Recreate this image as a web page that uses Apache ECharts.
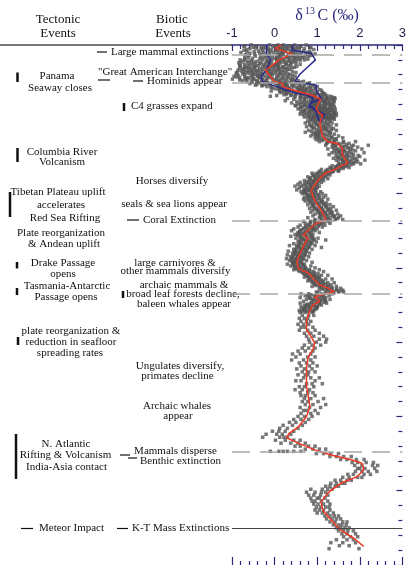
<!DOCTYPE html>
<html>
<head>
<meta charset="utf-8">
<script src="https://cdn.jsdelivr.net/npm/echarts@6/dist/echarts.min.js"></script>
<style>
  html, body { margin: 0; padding: 0; background: #fff; }
  #chart { width: 409px; height: 565px; }
</style>
</head>
<body>
<div id="chart"></div>
<script>
// Cenozoic benthic carbon isotope record: age (Ma) down the page, δ13C (‰) across.

// δ13C axis range and tick step
const isoMin = -1;
const isoMax = 3;
const isoStep = 1;
// age axis (Ma)
const ageMax = 70;
const ageStep = 10;

// ages (Ma) of dashed event lines and the K-T boundary
const eventAges = [1.35, 5.05, 23.6, 33.5, 54.7];
const ktAge = 65.0;

// smoothed mean curve: [δ13C, age]
const meanCurve = [
  [0.15,0],[0.02,0.45],[0.42,1.2],[0.10,2.0],[-0.05,2.7],[-0.22,3.4],[-0.13,4.0],[-0.01,4.9],
  [0.20,5.2],[0.18,5.6],[0.45,6.1],[0.90,6.8],[1.08,7.3],[0.98,8.5],[1.02,9.0],[1.13,9.5],
  [1.06,10.5],[1.09,11.4],[1.13,12.3],[1.25,13.0],[1.48,13.3],[1.59,13.9],[1.59,14.8],[1.72,15.9],
  [1.55,16.3],[1.40,16.8],[1.17,17.3],[1.02,18.2],[0.86,19.5],[0.90,20.4],[0.98,21.3],[1.09,22.2],
  [1.17,23.1],[1.20,23.6],[0.98,24.0],[0.83,24.7],[0.67,25.6],[0.79,26.0],[0.71,26.7],[0.60,28.0],
  [0.52,29.2],[0.56,30.1],[0.79,30.7],[0.94,31.6],[1.06,32.3],[1.25,32.7],[1.40,33.2],[0.94,33.9],
  [1.06,34.5],[0.90,35.0],[0.83,35.7],[0.75,37.0],[0.75,38.4],[0.83,39.0],[0.94,40.1],[0.90,41.0],
  [0.79,42.0],[0.75,43.3],[0.75,46.0],[0.79,47.3],[0.83,48.7],[0.75,50.0],[0.56,51.4],[0.33,52.3],
  [0.29,52.9],[0.56,53.6],[0.94,54.5],[1.32,55.2],[1.78,55.8],[2.05,56.3],[2.09,57.2],[1.94,58.1],
  [1.55,59.0],[1.25,60.3],[1.09,61.5],[1.13,62.6],[1.32,63.9],[1.55,65.3],[1.86,66.4],[2.09,67.5]
];

// spread envelope for the last 10 Myr: [δ13C, age]
const envelopeLow = [
  [-0.17,0],[-0.2,1.1],[-0.09,2.0],[-0.2,3.4],[-0.32,4.3],[-0.28,4.9],[-0.05,5.4],[0.29,6.1],
  [0.52,6.5],[0.75,6.7],[0.9,7.2],[0.83,8.1],[0.9,8.5],[0.98,9.0],[1.02,9.9],[1.08,10.4]
];
const envelopeHigh = [
  [0.44,0],[0.41,0.7],[0.86,1.1],[0.96,2.0],[0.79,2.9],[0.6,3.9],[0.52,4.5],[0.48,4.9],
  [0.98,5.4],[0.98,6.2],[1.1,7.2],[0.86,7.8],[0.79,8.3],[0.98,8.7],[1.17,9.4],[1.12,10.0],[1.08,10.4]
];

// individual measurements, 0-10 Ma: [age, δ13C, δ13C, ...]
const isotopeRowsNeogeneLate = [
  [0.0,-0.55,-0.12,0.21,0.47,0.08,0.74],[0.1,-0.42,0.02,0.38,-0.7,0.62,0.15],
  [0.2,-0.31,0.35,-0.72,0.12,0.61,-0.04],[0.3,0.1,-0.25,0.55,-0.5,0.28,0.85],
  [0.4,0.28,-0.45,0.02,0.83,-0.21,0.52],[0.5,-0.15,0.45,-0.58,0.2,0.7,-0.32],
  [0.6,-0.66,0.15,0.44,-0.08,0.92,0.31],[0.7,0.38,-0.72,0.05,0.58,-0.28,0.15],
  [0.8,0.06,-0.38,0.68,0.23,-0.15,0.5],[0.9,-0.48,0.25,0.82,-0.1,0.42,-0.65],
  [1.0,-0.79,0.38,-0.02,0.77,0.18,-0.26],[1.1,0.15,0.62,-0.35,0.45,-0.58,0.85],
  [1.2,0.55,-0.47,0.09,0.32,0.95,-0.12],[1.3,-0.68,0.2,0.5,-0.3,0.72,0.05],
  [1.4,-0.2,0.62,0.15,-0.6,0.41,0.86],[1.5,0.35,-0.12,0.55,-0.45,0.8,0.1],
  [1.6,0.27,-0.33,0.71,-0.05,0.48,-0.7],[1.7,-0.25,0.45,0.05,-0.62,0.3,0.65],
  [1.8,-0.52,0.12,0.36,-0.18,0.58,0.01],[1.9,0.18,-0.7,0.52,-0.35,0.05,0.78],
  [2.0,0.22,-0.81,-0.28,0.44,-0.06,0.7],[2.1,-0.55,0.12,-0.15,0.35,-0.72,0.6],
  [2.2,-0.41,0.05,-0.63,0.3,-0.17,0.5],[2.3,-0.2,0.42,-0.48,0.1,-0.78,0.22],
  [2.4,0.14,-0.55,-0.08,-0.32,0.38,-0.84],[2.5,-0.62,0.05,-0.35,0.5,-0.12,0.28],
  [2.6,-0.25,0.26,-0.7,0.02,-0.45,0.6],[2.7,0.1,-0.52,-0.2,0.38,-0.82,0.0],
  [2.8,-0.6,-0.12,0.33,-0.38,0.08,-0.8],[2.9,-0.45,0.2,-0.7,-0.05,0.52,-0.28],
  [3.0,0.18,-0.48,-0.22,0.46,-0.66,0.0],[3.1,-0.15,-0.6,0.25,-0.82,0.08,0.4],
  [3.2,-0.35,-0.75,0.1,-0.12,0.3,-0.55],[3.3,-0.48,0.12,-0.28,-0.7,0.35,-0.05],
  [3.4,-0.62,-0.2,0.2,-0.42,-0.86,0.05],[3.5,0.0,-0.38,-0.78,0.28,-0.15,-0.55],
  [3.6,0.12,-0.52,-0.3,-0.08,0.42,-0.72],[3.7,-0.65,-0.2,0.18,-0.45,-0.88,0.5],
  [3.8,-0.9,-0.38,0.02,-0.6,0.25,-0.15],[3.9,-0.08,-0.52,0.32,-0.75,0.1,-0.3],
  [4.0,-0.28,0.15,-0.7,-0.45,0.36,-0.05],[4.1,-0.85,-0.12,0.22,-0.52,0.42,-0.35],
  [4.2,-0.55,-0.95,0.08,-0.22,-0.4,0.48],[4.3,0.05,-0.38,-0.7,0.3,-0.15,-0.9],
  [4.4,0.2,-0.62,-0.1,-0.82,0.3,-0.35],[4.5,-0.5,0.15,-0.28,-0.65,0.38,-0.05],
  [4.6,-0.18,-0.48,0.42,-0.99,0.05,-0.68],[4.7,-0.3,0.22,-0.82,0.0,-0.55,0.45],
  [4.8,-0.4,0.12,-0.75,0.55,-0.2,0.28],[4.9,0.1,-0.65,0.4,-0.22,0.68,-0.42],
  [5.0,0.35,-0.52,-0.05,0.62,-0.3,0.15],[5.1,-0.35,0.25,0.55,-0.15,0.05,0.82],
  [5.2,-0.12,0.48,0.2,-0.58,0.78,0.02],[5.3,0.42,-0.42,0.12,0.7,-0.22,0.28],
  [5.4,0.3,-0.28,0.58,0.08,0.92,-0.45],[5.5,-0.1,0.62,0.2,0.85,-0.3,0.4],
  [5.6,0.1,0.45,-0.18,0.7,0.25,1.0],[5.7,0.3,0.8,-0.08,0.52,0.15,0.95],
  [5.8,0.55,-0.05,0.32,0.85,0.18,0.65],[5.9,0.12,0.62,0.95,0.35,0.75,0.02],
  [6.0,0.4,0.72,0.1,1.05,0.28,0.58],[6.1,0.55,0.2,0.85,0.32,1.1,0.68],
  [6.2,0.62,0.22,0.9,0.45,-0.08,0.78],[6.3,0.25,0.72,0.45,1.0,0.58,0.12],
  [6.4,0.35,0.82,0.55,1.12,0.15,0.68],[6.5,0.5,0.95,0.7,0.28,1.15,0.62],
  [6.6,0.72,0.5,1.0,0.28,0.88,1.18],[6.7,0.85,0.4,1.08,0.65,0.95,0.22],
  [6.8,0.6,0.95,0.38,0.8,1.22,0.05],[6.9,0.72,1.15,0.48,1.3,0.9,-0.1],
  [7.0,0.88,1.1,0.62,1.35,0.75,0.48],[7.1,0.95,0.6,1.22,0.8,1.4,1.05],
  [7.2,1.02,0.7,1.25,0.92,0.3,1.42],[7.3,0.7,1.35,0.9,1.12,0.45,1.22],
  [7.4,0.85,1.18,1.0,0.6,1.3,0.98],[7.5,1.15,0.92,0.7,1.38,1.05,0.25],
  [7.6,1.08,0.78,1.4,0.95,0.52,1.2],[7.7,0.85,1.28,1.0,0.62,1.18,0.95],
  [7.8,0.92,1.15,0.68,1.28,1.02,0.4],[7.9,1.05,0.75,1.35,0.88,1.2,0.55],
  [8.0,0.82,1.05,0.6,1.22,0.95,1.38],[8.1,0.92,1.15,0.7,1.3,1.0,0.48],
  [8.2,1.1,0.72,0.9,1.3,0.5,1.0],[8.3,1.2,0.85,1.05,0.65,1.4,0.95],
  [8.4,0.95,1.18,0.78,1.05,1.35,0.62],[8.5,0.8,1.08,1.3,0.92,0.6,1.18],
  [8.6,1.12,0.85,1.25,0.98,0.55,1.42],[8.7,1.02,0.72,1.15,1.35,0.88,1.25],
  [8.8,0.9,1.05,1.2,0.7,1.32,1.0],[8.9,1.25,0.95,0.65,1.1,1.42,0.82],
  [9.0,1.15,0.8,1.02,1.38,0.62,1.1],[9.1,0.88,1.18,1.3,0.7,1.02,1.4],
  [9.2,0.95,1.25,1.08,0.75,1.45,1.15],[9.3,1.08,0.82,1.22,1.38,0.95,0.6],
  [9.4,1.2,0.88,1.32,1.05,0.68,1.12],[9.5,1.3,1.0,0.78,1.15,1.45,1.05],
  [9.6,1.0,1.22,0.82,1.4,1.1,0.92],[9.7,0.92,1.25,1.1,0.7,1.35,1.18],
  [9.8,1.15,0.78,1.28,1.05,1.35,0.9],[9.9,1.2,0.95,1.38,0.85,1.08,1.28]
];

// individual measurements, 10-36 Ma
const isotopeRowsMiddle = [
  [10.0,0.85,1.22,1.0,1.4],[10.125,1.05,0.9,1.3],[10.25,1.12,0.78,1.3,0.95],[10.375,1.0,1.21,0.83],
  [10.5,0.92,1.18,0.72,1.35],[10.625,1.1,0.96,1.27],[10.75,1.25,1.0,0.82,1.45],[10.875,1.03,1.17,0.86],
  [11.0,0.88,1.15,1.32,0.75],[11.125,1.1,0.93,1.24],[11.25,1.05,1.38,0.9,1.2],[11.375,1.16,0.99,1.33],
  [11.5,1.22,0.8,1.1,1.45],[11.625,1.04,1.26,0.87],[11.75,0.95,1.3,1.05,0.72],[11.875,1.13,0.97,1.31],
  [12.0,1.18,0.9,1.4,1.02],[12.125,1.07,1.23,0.96],[12.25,1.0,1.28,0.85,1.5],[12.375,1.16,1.34,1.01],
  [12.5,1.35,1.08,0.95,1.6],[12.625,1.21,1.04,1.43],[12.75,1.15,1.45,0.98,1.28],[12.875,1.26,1.39,1.11],
  [13.0,1.3,1.62,1.05,1.9],[13.125,1.41,1.24,1.61],[13.25,1.5,1.22,1.75,1.38],[13.375,1.54,1.36,1.69],
  [13.5,1.42,1.85,1.2,2.2],[13.625,1.63,1.44,1.81],[13.75,1.6,1.35,1.95,1.7],[13.875,1.56,1.73,1.39],
  [14.0,1.48,1.78,1.25,2.05],[14.125,1.61,1.46,1.83],[14.25,1.65,1.4,1.9,1.55],[14.375,1.51,1.76,1.63],
  [14.5,1.35,1.72,2.1,1.5],[14.625,1.59,1.44,1.81],[14.75,1.58,1.85,1.28,1.68],[14.875,1.71,1.54,1.96],
  [15.0,1.75,1.45,2.0,1.62],[15.125,1.63,1.83,1.49],[15.25,1.52,1.88,1.38,1.7],[15.375,1.69,1.57,1.93],
  [15.5,1.8,1.6,2.12,1.45],[15.625,1.74,1.61,1.89],[15.75,1.65,1.95,1.5,1.78],[15.875,1.71,1.86,1.61],
  [16.0,1.85,1.55,1.72,2.02],[16.125,1.63,1.79,1.51],[16.25,1.48,1.7,1.35,1.62],[16.375,1.56,1.67,1.43],
  [16.5,1.58,1.3,1.45,1.75],[16.625,1.44,1.61,1.33],[16.75,1.25,1.52,1.4,1.1],[16.875,1.36,1.49,1.21],
  [17.0,1.38,1.05,1.22,1.5],[17.125,1.19,1.34,1.07],[17.25,1.0,1.28,1.15,0.88],[17.375,1.13,1.24,0.97],
  [17.5,1.12,0.9,1.3,1.02],[17.625,1.06,1.21,0.91],[17.75,0.95,1.18,0.78,1.08],[17.875,1.01,1.13,0.84],
  [18.0,1.05,0.82,0.95,1.25],[18.125,0.97,1.11,0.83],[18.25,0.7,1.0,0.88,1.15],[18.375,0.91,1.04,0.77],
  [18.5,0.92,0.6,1.1,0.8],[18.625,0.84,1.01,0.71],[18.75,0.75,0.98,0.55,0.88],[18.875,0.83,0.94,0.67],
  [19.0,0.85,0.62,1.05,0.48],[19.125,0.87,0.74,0.99],[19.25,0.58,0.9,0.78,1.0],[19.375,0.86,0.69,0.96],
  [19.5,0.8,0.52,0.95,0.7],[19.625,0.81,0.96,0.73],[19.75,0.68,0.88,1.08,0.62],[19.875,0.86,0.97,0.74],
  [20.0,0.92,0.72,0.65,1.12],[20.125,0.89,0.77,1.03],[20.25,0.78,1.0,0.85,1.2],[20.375,0.93,0.79,1.06],
  [20.5,0.95,0.7,1.15,0.82],[20.625,0.89,1.03,0.77],[20.75,1.05,0.88,0.68,1.25],[20.875,0.96,0.81,1.11],
  [21.0,0.8,1.1,0.95,0.72],[21.125,0.97,0.87,1.13],[21.25,1.0,0.85,1.22,1.08],[21.375,1.01,0.89,1.16],
  [21.5,1.15,0.92,0.78,1.3],[21.625,1.04,0.91,1.21],[21.75,0.88,1.2,1.05,1.38],[21.875,1.09,0.94,1.23],
  [22.0,1.1,0.95,1.32,0.82],[22.125,1.13,0.99,1.26],[22.25,1.25,1.02,1.45,0.9],[22.375,1.14,1.01,1.31],
  [22.5,1.05,1.35,0.85,1.18],[22.625,1.19,1.04,1.33],[22.75,1.28,1.1,1.48,0.95],[22.875,1.21,1.07,1.36],
  [23.0,1.15,1.4,0.9,1.55],[23.125,1.23,1.07,1.39],[23.25,1.3,1.05,1.5,0.78],[23.375,1.24,1.11,1.46],
  [23.5,1.2,0.95,1.42,1.6],[23.625,1.11,1.31,0.94],[23.75,0.85,1.25,1.05,0.68],[23.875,1.01,0.84,1.16],
  [24.0,1.1,0.72,0.95,1.3],[24.125,0.94,0.81,1.09],[24.25,0.8,1.02,0.6,1.18],[24.375,0.87,0.73,1.03],
  [24.5,0.92,0.55,1.12,0.75],[24.625,0.83,0.69,0.94],[24.75,0.68,0.88,0.45,1.0],[24.875,0.77,0.63,0.91],
  [25.0,0.78,0.6,0.95,0.4],[25.125,0.73,0.59,0.86],[25.25,0.55,0.82,0.7,1.05],[25.375,0.67,0.56,0.81],
  [25.5,0.72,0.48,0.9,0.62],[25.625,0.71,0.54,0.86],[25.75,0.6,0.85,0.38,0.75],[25.875,0.76,0.61,0.89],
  [26.0,0.88,0.65,1.02,0.5],[26.125,0.79,0.67,0.93],[26.25,0.7,0.92,0.58,1.2],[26.375,0.74,0.63,0.87],
  [26.5,0.82,0.55,0.75,0.98],[26.625,0.73,0.59,0.84],[26.75,0.62,0.88,0.45,0.72],[26.875,0.69,0.57,0.83],
  [27.0,0.75,0.52,0.95,0.35],[27.125,0.67,0.56,0.81],[27.25,0.58,0.8,0.68,1.1],[27.375,0.66,0.51,0.77],
  [27.5,0.7,0.45,0.88,0.6],[27.625,0.63,0.49,0.74],[27.75,0.5,0.75,0.62,0.32],[27.875,0.59,0.47,0.73],
  [28.0,0.65,0.42,0.82,0.55],[28.125,0.57,0.46,0.71],[28.25,0.48,0.72,0.3,0.6],[28.375,0.54,0.43,0.69],
  [28.5,0.62,0.38,0.55,0.8],[28.625,0.56,0.41,0.64],[28.75,0.45,0.68,0.28,0.52],[28.875,0.51,0.39,0.66],
  [29.0,0.58,0.35,0.75,0.5],[29.125,0.49,0.61,0.41],[29.25,0.42,0.62,0.48,0.88],[29.375,0.53,0.64,0.43],
  [29.5,0.55,0.3,0.7,0.45],[29.625,0.56,0.67,0.44],[29.75,0.65,0.48,0.85,0.38],[29.875,0.57,0.71,0.47],
  [30.0,0.5,0.72,0.6,0.95],[30.125,0.61,0.74,0.51],[30.25,0.68,0.45,0.82,1.05],[30.375,0.67,0.81,0.56],
  [30.5,0.75,0.9,0.6,1.15],[30.625,0.77,0.93,0.66],[30.75,0.85,0.68,1.02,0.78],[30.875,0.83,0.94,0.71],
  [31.0,0.92,0.75,1.1,1.25],[31.125,0.87,1.01,0.76],[31.25,0.8,1.05,0.95,0.7],[31.375,0.93,1.04,0.81],
  [31.5,1.0,0.85,1.2,1.35],[31.625,0.96,1.09,0.83],[31.75,0.92,1.12,0.78,1.02],[31.875,1.01,1.14,0.87],
  [32.0,1.08,0.9,1.25,1.4],[32.125,1.04,1.19,0.93],[32.25,1.15,0.95,1.32,1.05],[32.375,1.11,1.26,0.97],
  [32.5,1.25,1.05,1.45,0.88],[32.625,1.21,1.34,1.06],[32.75,1.35,1.12,1.55,1.22],[32.875,1.29,1.46,1.14],
  [33.0,1.45,1.25,1.6,1.05],[33.125,1.37,1.53,1.21],[33.25,1.3,1.5,0.98,1.62],[33.375,1.19,1.39,1.01],
  [33.5,1.1,0.8,1.35,0.62],[33.625,1.01,1.14,0.86],[33.75,0.95,1.15,0.72,1.28],[33.875,0.94,1.11,0.79],
  [34.0,1.05,0.82,1.2,0.6],[34.125,0.99,1.16,0.84],[34.25,1.12,0.9,1.3,0.75],[34.375,1.06,1.19,0.91],
  [34.5,0.98,1.2,0.68,1.08],[34.625,1.01,1.16,0.87],[34.75,0.85,1.05,0.6,1.22],[34.875,0.93,1.06,0.77],
  [35.0,0.92,0.7,1.1,0.8],[35.125,0.87,1.01,0.74],[35.25,0.78,0.95,0.62,1.0],[35.375,0.84,0.99,0.71],
  [35.5,0.85,0.65,0.98,0.72],[35.625,0.81,0.94,0.69],[35.75,0.7,0.9,0.58,0.82],[35.875,0.77,0.91,0.64]
];

// individual measurements, 36-68 Ma
const isotopeRowsEarly = [
  [36.0,0.72,0.88,0.6],[36.4,0.65,0.8,0.92],[36.8,0.78,0.58,0.7],[37.2,0.62,0.85,0.75],
  [37.6,0.8,0.68,0.55],[38.0,0.7,0.9,0.62],[38.4,0.58,0.78,0.95],[38.8,0.85,0.7,1.05],
  [39.2,0.92,0.75,1.15],[39.6,0.8,1.05,1.22],[40.0,0.98,0.82,1.2],[40.4,0.88,1.08,0.7],
  [40.8,0.95,0.65,0.8],[41.2,0.72,0.9,0.55],[41.6,0.85,0.6,0.42],[42.0,0.78,0.5,0.95],
  [42.4,0.68,0.85,0.4],[42.8,0.75,0.58,0.9],[43.2,0.82,0.62,1.0],[43.6,0.7,0.88,0.52],
  [44.0,0.65,0.8,0.95],[44.4,0.78,0.55,0.72],[44.8,0.85,0.68,1.05],[45.2,0.62,0.95,0.5],
  [45.6,0.75,0.88,1.12],[46.0,0.7,0.58,0.92],[46.4,0.82,0.65,0.48],[46.8,0.6,0.78,0.9],
  [47.2,0.72,0.95,0.62],[47.6,0.85,0.7,1.15],[48.0,0.78,1.02,0.65],[48.4,0.9,0.72,1.2],
  [48.8,0.82,1.08,0.6],[49.2,0.75,0.95,0.68],[49.6,0.85,0.62,1.02],[50.0,0.7,0.55,0.88],
  [50.4,0.62,0.8,0.45],[50.8,0.5,0.72,0.35],[51.2,0.42,0.65,0.2],[51.6,0.3,0.55,0.12],
  [52.0,0.25,0.45,-0.05,0.1],[52.4,0.18,0.38,-0.2,0.05],[52.8,0.3,0.12,-0.28,0.22],
  [53.2,0.45,0.25,0.6,0.02],[53.6,0.55,0.38,0.72,0.15],[54.0,0.8,0.6,0.95,0.48],
  [54.4,0.9,1.05,0.72,1.2],[54.7,0.62,0.45,0.3,0.1,-0.1,0.2],
  [55.0,1.15,1.32,0.98,1.5],[55.4,1.45,1.62,1.3,1.8],[55.8,1.7,1.92,1.55,2.1],
  [56.2,1.95,2.15,1.82,2.32],[56.6,2.05,2.3,1.88,2.42],[57.0,2.12,1.95,2.35,2.0],
  [57.4,2.2,1.9,2.05,2.4],[57.8,1.85,2.1,1.72,2.25],[58.2,1.75,1.95,1.6,2.05],
  [58.6,1.55,1.8,1.42,1.7],[59.0,1.45,1.65,1.32,1.58],[59.4,1.3,1.5,1.2,1.42],
  [59.8,1.12,0.85,1.35,1.25],[60.2,0.95,0.75,1.2,1.1],[60.6,0.8,1.08,0.92,1.25],
  [61.0,1.0,0.85,1.18,1.05],[61.4,1.1,0.95,1.25,0.88],[61.8,1.02,1.15,0.92,1.3],
  [62.2,1.2,0.98,1.08,1.28],[62.6,1.05,1.3,1.15,0.95],[63.0,1.25,1.12,1.38,1.0],
  [63.4,1.18,1.4,1.3,1.5],[63.8,1.35,1.22,1.55,1.45],[64.2,1.42,1.6,1.3,1.7],
  [64.6,1.5,1.38,1.68,1.58],[65.0,1.55,1.75,1.45,1.65],[65.4,1.62,1.85,1.5,1.72],
  [65.8,1.7,1.9,1.58],[66.2,1.78,1.62,1.95],[66.6,1.45,1.85,1.7],[67.0,1.32,1.9,1.6],
  [67.4,1.75,1.52],[67.8,1.28,1.98]
];

// ---- labels and layout ----
const serif = '"Liberation Serif", "DejaVu Serif", serif';
const sans = '"Liberation Sans", Arial, sans-serif';
const navy = '#2a2a7c';

const headerLabels = [
  ['Tectonic', 58, 20], ['Events', 58, 34],
  ['Biotic', 172, 20], ['Events', 173, 34]
];

// centred annotation lines: [text, centreX, centreY]
const centredLabels = [
  ['Panama', 57, 76], ['Seaway closes', 60, 88],
  ['Columbia River', 62, 152], ['Volcanism', 62, 162],
  ['Tibetan Plateau uplift', 58, 192.5], ['accelerates', 61, 205], ['Red Sea Rifting', 65, 218],
  ['Plate reorganization', 61, 233], ['& Andean uplift', 64, 244],
  ['Drake Passage', 63, 263], ['opens', 63, 274],
  ['Tasmania-Antarctic', 67, 286], ['Passage opens', 66, 297.5],
  ['plate reorganization &', 71, 331], ['reduction in seafloor', 71, 342], ['spreading rates', 70, 353],
  ['N. Atlantic', 66, 444], ['Rifting & Volcanism', 65.5, 455.5], ['India-Asia contact', 66.5, 467.5],
  ['Horses diversify', 172, 181.5],
  ['seals & sea lions appear', 174, 204],
  ['large carnivores &', 175, 263], ['other mammals diversify', 175.5, 271.5],
  ['archaic mammals &', 184, 285.5], ['broad leaf forests decline,', 183, 294.5], ['baleen whales appear', 184, 304.5],
  ['Ungulates diversify,', 180, 366.5], ['primates decline', 177.5, 376],
  ['Archaic whales', 177, 406.5], ['appear', 178, 416.5],
  ['Mammals disperse', 175.5, 451], ['Benthic extinction', 180.5, 461]
];

// left-aligned annotation lines: [text, leftX, centreY]
const leftLabels = [
  ['Large mammal extinctions', 111, 52],
  ['"Great American Interchange"', 98, 72],
  ['Hominids appear', 147, 81],
  ['C4 grasses expand', 131, 106],
  ['Coral Extinction', 143, 220],
  ['Meteor Impact', 39, 528.5],
  ['K-T Mass Extinctions', 132, 528.5]
];

// short leader dashes: [x1, x2, y]
const leaderDashes = [
  [97, 107, 52], [98, 110, 80], [133, 143, 81], [127, 139, 220],
  [120, 130, 455], [128, 137, 458], [21, 33, 528.5], [117, 128, 528.5]
];

// duration bars: [x, yTop, yBottom]
const durationBars = [
  [17.5, 72.5, 82], [124, 103, 111], [17.5, 148, 162], [10, 192, 217],
  [17, 262, 268.5], [17, 288, 295], [123, 291, 298], [18, 337, 345], [16, 434, 479]
];

const graphics = [];
graphics.push({
  type: 'line', silent: true,
  shape: { x1: 0, y1: 45, x2: 232, y2: 45 },
  style: { stroke: '#4a4a4a', lineWidth: 1.5 }
});
headerLabels.forEach(([t, x, y]) => graphics.push({
  type: 'text', x, y, silent: true,
  style: { text: t, align: 'center', verticalAlign: 'middle', font: '13px ' + serif, fill: '#111' }
}));
centredLabels.forEach(([t, x, y]) => graphics.push({
  type: 'text', x, y, silent: true,
  style: { text: t, align: 'center', verticalAlign: 'middle', font: '11px ' + serif, fill: '#111' }
}));
leftLabels.forEach(([t, x, y]) => graphics.push({
  type: 'text', x, y, silent: true,
  style: { text: t, align: 'left', verticalAlign: 'middle', font: '11px ' + serif, fill: '#111' }
}));
leaderDashes.forEach(([x1, x2, y]) => graphics.push({
  type: 'line', silent: true,
  shape: { x1, y1: y, x2, y2: y },
  style: { stroke: '#111', lineWidth: 1.2 }
}));
durationBars.forEach(([x, y1, y2]) => graphics.push({
  type: 'rect', silent: true,
  shape: { x: x - 1.25, y: y1, width: 2.5, height: y2 - y1 },
  style: { fill: '#111' }
}));
// axis title δ13C (‰)
graphics.push(
  { type: 'text', x: 299, y: 15.5, silent: true,
    style: { text: 'δ', align: 'center', verticalAlign: 'middle', font: '16px ' + serif, fill: navy } },
  { type: 'text', x: 310, y: 11.5, silent: true,
    style: { text: '13', align: 'center', verticalAlign: 'middle', font: '10px ' + serif, fill: navy } },
  { type: 'text', x: 317.5, y: 15.5, silent: true,
    style: { text: 'C (‰)', align: 'left', verticalAlign: 'middle', font: '16px ' + serif, fill: navy } }
);

const scatterData = [];
[isotopeRowsNeogeneLate, isotopeRowsMiddle, isotopeRowsEarly].forEach(rows => rows.forEach(row => {
  for (let i = 1; i < row.length; i++) scatterData.push([row[i], row[0]]);
}));

const chart = echarts.init(document.getElementById('chart'), null, { renderer: 'canvas' });
chart.setOption({
  animation: false,
  backgroundColor: '#fff',
  grid: { left: 232, right: 3, top: 45, bottom: 0 },
  xAxis: [
    {
      type: 'value', position: 'top', min: isoMin, max: isoMax, interval: isoStep,
      axisLine: { show: true, onZero: false, lineStyle: { color: navy, width: 1.5 } },
      axisTick: { show: true, inside: true, length: 6, lineStyle: { color: navy, width: 1.2 } },
      minorTick: { show: true, splitNumber: 5, length: 4, lineStyle: { color: navy, width: 1.2 } },
      axisLabel: { show: true, margin: 5, fontFamily: sans, fontSize: 13, color: '#1e1e4a' },
      splitLine: { show: false }
    },
    {
      type: 'value', position: 'bottom', min: isoMin, max: isoMax, interval: isoStep,
      axisLine: { show: false, onZero: false },
      axisTick: { show: true, inside: true, length: 8, lineStyle: { color: navy, width: 1.2 } },
      minorTick: { show: true, splitNumber: 5, length: 4, lineStyle: { color: navy, width: 1.2 } },
      axisLabel: { show: false },
      splitLine: { show: false }
    }
  ],
  yAxis: {
    type: 'value', inverse: true, position: 'right', min: 0, max: ageMax, interval: ageStep,
    axisLine: { show: false, onZero: false },
    axisTick: { show: true, inside: true, length: 6, lineStyle: { color: navy, width: 1.2 } },
    minorTick: { show: true, splitNumber: 5, length: 4, lineStyle: { color: navy, width: 1.2 } },
    axisLabel: { show: false },
    splitLine: { show: false }
  },
  series: [
    {
      name: 'events', type: 'line', data: [], z: 1, silent: true,
      markLine: {
        silent: true, symbol: 'none', label: { show: false }, animation: false,
        data: eventAges.map(a => ({ yAxis: a, lineStyle: { color: '#a8a8a8', width: 1.5, type: [18, 10] } }))
          .concat([{ yAxis: ktAge, lineStyle: { color: '#444', width: 1, type: 'solid' } }])
      }
    },
    {
      name: 'measurements', type: 'scatter', z: 2, silent: true,
      symbol: 'rect', symbolSize: 3.5,
      itemStyle: { color: '#555555' },
      data: scatterData
    },
    {
      name: 'envelope low', type: 'line', z: 3, silent: true, showSymbol: false,
      lineStyle: { color: '#2a2a8c', width: 1.5 }, data: envelopeLow
    },
    {
      name: 'envelope high', type: 'line', z: 3, silent: true, showSymbol: false,
      lineStyle: { color: '#2a2a8c', width: 1.5 }, data: envelopeHigh
    },
    {
      name: 'mean', type: 'line', z: 4, silent: true, showSymbol: false,
      lineStyle: { color: '#ee3a24', width: 1.5 }, data: meanCurve
    }
  ],
  graphic: graphics
});
</script>
</body>
</html>
